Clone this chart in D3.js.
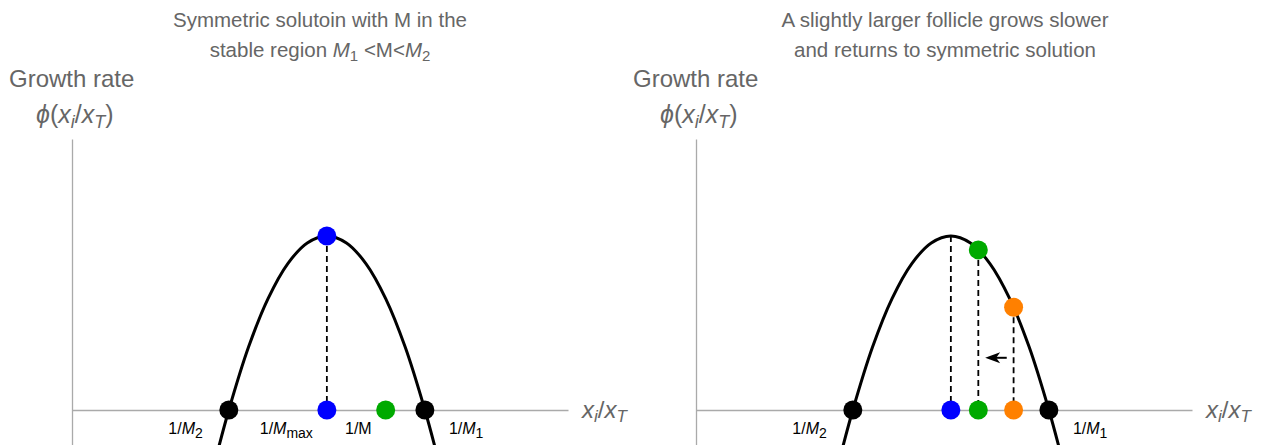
<!DOCTYPE html>
<html>
<head>
<meta charset="utf-8">
<script src="https://cdn.jsdelivr.net/npm/d3@7"></script>
<style>
  html, body { margin: 0; padding: 0; background: #fff; }
  svg { display: block; }
  text { font-family: "Liberation Sans", Arial, Helvetica, sans-serif; }
</style>
</head>
<body>
<svg id="chart" width="1261" height="445"></svg>
<script>
// ---- data (x = x_i/x_T, phi = growth rate) ----
const curveX   = [0.44, 0.5, 0.6, 0.7, 0.8, 0.9, 1.0, 1.1, 1.2, 1.3, 1.4, 1.5, 1.56];
const curvePhi = [-0.25, 0, 0.36, 0.64, 0.84, 0.96, 1.0, 0.96, 0.84, 0.64, 0.36, 0, -0.25];

// left panel
const leftRoots   = [0.5, 1.5];
const leftMax     = {x: 1.0, phi: 1.0};
const leftGreenX  = 1.3;

// right panel
const rightRoots  = [0.5, 1.5];
const rightPoints = [
  {name: "blue",   x: 1.0,  phi: 1.0,  color: "#0000ff"},
  {name: "green",  x: 1.14, phi: 0.92, color: "#00aa00"},
  {name: "orange", x: 1.32, phi: 0.59, color: "#ff8000"}
];
const arrowFrom = {x: 1.285, phi: 0.30};
const arrowTo   = {x: 1.175, phi: 0.30};

const titles = [
  [[{t: "Symmetric solutoin with M in the"}],
   [{t: "stable region "}, {t: "M", i: true}, {t: "1", sub: true}, {t: " <M<"}, {t: "M", i: true}, {t: "2", sub: true}]],
  [[{t: "A slightly larger follicle grows slower"}],
   [{t: "and returns to symmetric solution"}]]
];

const xDomain = [-0.3, 2.23];
const yDomain = [-0.201, 1.557];

const svg = d3.select("#chart");

function rich(sel, segs, baseSize, subSize) {
  segs.forEach(s => {
    const ts = sel.append("tspan").text(s.t);
    if (s.i) ts.attr("font-style", "italic");
    if (s.sub) ts.attr("font-size", subSize).attr("baseline-shift", "-25%");
  });
}

function panel(offset, idx) {
  const g = svg.append("g").attr("transform", `translate(${offset},0)`);
  const x = d3.scaleLinear().domain(xDomain).range([72, 568]);
  const y = d3.scaleLinear().domain(yDomain).range([445, 139]);

  // titles
  const cx = idx === 0 ? 320 : 321;
  titles[idx].forEach((line, k) => {
    const t = g.append("text").attr("x", cx).attr("y", 27 + k * 30)
      .attr("text-anchor", "middle").attr("font-size", 20.5).attr("fill", "#666");
    rich(t, line, 20.5, 15);
  });

  // y label
  g.append("text").attr("x", 9).attr("y", 87).attr("font-size", 24).attr("fill", "#666").text("Growth rate");
  const phiT = g.append("text").attr("x", 36).attr("y", 123).attr("font-size", 25).attr("fill", "#666");
  rich(phiT, [{t: "ϕ", i: true}, {t: "("}, {t: "x", i: true}, {t: "i", i: true, sub: true}, {t: "/"},
              {t: "x", i: true}, {t: "T", i: true, sub: true}, {t: ")"}], 25, 18);

  // axes
  g.append("g").attr("transform", `translate(0,${y(0)})`)
    .call(d3.axisBottom(x).tickValues([]).tickSizeOuter(0))
    .call(a => a.select(".domain").attr("stroke", "#aaa").attr("stroke-width", 1.3));
  g.append("g").attr("transform", `translate(${x(xDomain[0])},0)`)
    .call(d3.axisLeft(y).tickValues([]).tickSizeOuter(0))
    .call(a => a.select(".domain").attr("stroke", "#aaa").attr("stroke-width", 1.3));

  const xl = g.append("text").attr("x", 582).attr("y", y(0) + 8).attr("font-size", 24).attr("fill", "#666");
  rich(xl, [{t: "x", i: true}, {t: "i", i: true, sub: true}, {t: "/"}, {t: "x", i: true}, {t: "T", i: true, sub: true}], 24, 17);

  // curve
  const pts = curveX.map((v, i) => [v, curvePhi[i]]);
  g.append("path").datum(pts)
    .attr("d", d3.line().x(d => x(d[0])).y(d => y(d[1])).curve(d3.curveCatmullRom))
    .attr("fill", "none").attr("stroke", "#000").attr("stroke-width", 3);

  const dash = (xv, phi) => g.append("line")
    .attr("x1", x(xv)).attr("x2", x(xv)).attr("y1", y(phi)).attr("y2", y(0))
    .attr("stroke", "#000").attr("stroke-width", 1.8).attr("stroke-dasharray", "6,4");
  const dot = (xv, phi, c) => g.append("circle").attr("cx", x(xv)).attr("cy", y(phi)).attr("r", 9.5).attr("fill", c);
  const lab = (xv, dx, anchor, segs) => {
    const t = g.append("text").attr("x", x(xv) + dx).attr("y", y(0) + 24)
      .attr("text-anchor", anchor).attr("font-size", 16).attr("fill", "#000");
    rich(t, segs, 16, 14);
  };

  const roots = idx === 0 ? leftRoots : rightRoots;

  if (idx === 0) {
    dash(leftMax.x, leftMax.phi);
    dot(leftMax.x, leftMax.phi, "#0000ff");
    dot(leftMax.x, 0, "#0000ff");
    dot(leftGreenX, 0, "#00aa00");
    lab(leftMax.x, -14, "end", [{t: "1/"}, {t: "M", i: true}, {t: "max", sub: true}]);
    lab(leftGreenX, -14, "end", [{t: "1/M"}]);
  } else {
    rightPoints.forEach(p => dash(p.x, p.phi));
    rightPoints.forEach(p => {
      if (p.name !== "blue") dot(p.x, p.phi, p.color);
      dot(p.x, 0, p.color);
    });
    // arrow
    const ax1 = x(arrowFrom.x), ax2 = x(arrowTo.x), ay = y(arrowFrom.phi);
    g.append("line").attr("x1", ax1).attr("x2", ax2 + 8).attr("y1", ay).attr("y2", ay)
      .attr("stroke", "#000").attr("stroke-width", 2);
    g.append("path")
      .attr("d", `M${ax2},${ay} L${ax2 + 15},${ay - 5.5} L${ax2 + 11},${ay} L${ax2 + 15},${ay + 5.5} Z`)
      .attr("fill", "#000");
  }

  roots.forEach(r => dot(r, 0, "#000"));
  lab(roots[0], -26, "end", [{t: "1/"}, {t: "M", i: true}, {t: "2", sub: true}]);
  lab(roots[1], 24, "start", [{t: "1/"}, {t: "M", i: true}, {t: "1", sub: true}]);
}

panel(0, 0);
panel(624, 1);
</script>
</body>
</html>
